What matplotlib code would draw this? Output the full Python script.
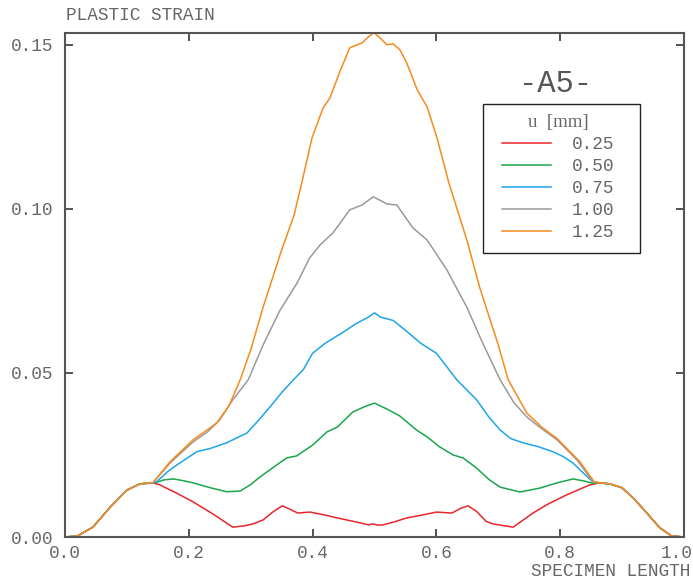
import matplotlib
matplotlib.use("Agg")
import matplotlib.pyplot as plt
from matplotlib.font_manager import FontProperties
from matplotlib.patches import Rectangle
from matplotlib.transforms import ScaledTranslation

# ---- data ----
left_x = [0.0, 0.02, 0.045, 0.073, 0.1, 0.121, 0.142]
left_y = [0.0, 0.0003, 0.003, 0.0091, 0.0143, 0.0162, 0.0165]
right_x = [0.88, 0.9, 0.92, 0.94, 0.961, 0.98, 1.0]
right_y = [0.0162, 0.0150, 0.0115, 0.0073, 0.0028, 0.0003, 0.0]

red_x = [0.153, 0.18, 0.207, 0.24, 0.271, 0.29, 0.304, 0.32, 0.337, 0.351, 0.363,
         0.376, 0.396, 0.42, 0.44, 0.46, 0.477, 0.49, 0.498, 0.505, 0.514, 0.53,
         0.552, 0.58, 0.60, 0.625, 0.64, 0.651, 0.665, 0.68, 0.691, 0.724, 0.756,
         0.78, 0.81, 0.848, 0.864]
red_y = [0.0159, 0.0134, 0.0107, 0.0069, 0.0030, 0.0034, 0.0040, 0.0052, 0.0078,
         0.0095, 0.0085, 0.0073, 0.0076, 0.0067, 0.0058, 0.0050, 0.0043, 0.0037,
         0.0040, 0.0036, 0.0037, 0.0045, 0.0058, 0.0068, 0.0076, 0.0073, 0.0088,
         0.0095, 0.0078, 0.0048, 0.0040, 0.0030, 0.0073, 0.0100, 0.0128, 0.0159,
         0.0165]

green_x = [0.148, 0.16, 0.175, 0.19, 0.207, 0.235, 0.261, 0.283, 0.30, 0.315,
           0.335, 0.358, 0.374, 0.40, 0.423, 0.44, 0.465, 0.485, 0.50, 0.52,
           0.54, 0.568, 0.585, 0.605, 0.627, 0.643, 0.665, 0.685, 0.703, 0.735,
           0.767, 0.795, 0.821, 0.84, 0.853, 0.864]
green_y = [0.0167, 0.0174, 0.0177, 0.0172, 0.0165, 0.0150, 0.0138, 0.0140, 0.0160,
           0.0183, 0.0210, 0.0241, 0.0247, 0.0280, 0.0320, 0.0335, 0.0381, 0.0398,
           0.0408, 0.0390, 0.0370, 0.0326, 0.0305, 0.0275, 0.0250, 0.0241, 0.0210,
           0.0175, 0.0152, 0.0137, 0.0149, 0.0165, 0.0177, 0.0170, 0.0164, 0.0165]

blue_x = [0.148, 0.165, 0.181, 0.213, 0.235, 0.261, 0.294, 0.31, 0.331, 0.35,
          0.369, 0.385, 0.40, 0.42, 0.45, 0.47, 0.49, 0.50, 0.51, 0.53, 0.55,
          0.575, 0.60, 0.633, 0.665, 0.685, 0.703, 0.72, 0.74, 0.765, 0.788,
          0.805, 0.821, 0.84, 0.853, 0.864]
blue_y = [0.0168, 0.0198, 0.0220, 0.0260, 0.0270, 0.0287, 0.0317, 0.0350, 0.0396,
          0.0440, 0.0479, 0.0510, 0.0560, 0.0590, 0.0625, 0.0650, 0.0670, 0.0683,
          0.0670, 0.0660, 0.0630, 0.0590, 0.0560, 0.0479, 0.0418, 0.0365, 0.0326,
          0.0300, 0.0287, 0.0275, 0.0260, 0.0245, 0.0225, 0.0190, 0.0168, 0.0165]

gray_x = [0.17, 0.207, 0.23, 0.25, 0.271, 0.296, 0.32, 0.347, 0.375, 0.395,
          0.412, 0.433, 0.46, 0.48, 0.498, 0.52, 0.536, 0.562, 0.585, 0.617,
          0.635, 0.649, 0.675, 0.703, 0.725, 0.746, 0.77, 0.795, 0.827, 0.853,
          0.864]
gray_y = [0.0226, 0.0290, 0.0320, 0.0357, 0.0418, 0.0479, 0.0585, 0.0690, 0.0774,
          0.0850, 0.0890, 0.0927, 0.0997, 0.1012, 0.1037, 0.1015, 0.1012, 0.0942,
          0.0905, 0.0814, 0.0750, 0.0701, 0.0590, 0.0479, 0.0410, 0.0366, 0.0330,
          0.0296, 0.0235, 0.0168, 0.0165]

orange_x = [0.17, 0.207, 0.245, 0.265, 0.283, 0.30, 0.32, 0.35, 0.37, 0.385,
            0.399, 0.417, 0.428, 0.444, 0.46, 0.48, 0.49, 0.499, 0.509, 0.52,
            0.53, 0.541, 0.552, 0.569, 0.585, 0.601, 0.62, 0.635, 0.65, 0.67,
            0.70, 0.716, 0.746, 0.77, 0.795, 0.832, 0.855, 0.864]
orange_y = [0.0230, 0.0296, 0.0347, 0.0400, 0.0479, 0.0570, 0.0700, 0.0875, 0.0980,
            0.1100, 0.1216, 0.1308, 0.1338, 0.1418, 0.1491, 0.1506, 0.1524, 0.1537,
            0.1521, 0.1500, 0.1503, 0.1485, 0.1445, 0.1363, 0.1311, 0.1216, 0.1080,
            0.0990, 0.0900, 0.0760, 0.0585, 0.0479, 0.0378, 0.0335, 0.0300, 0.0229,
            0.0168, 0.0165]

labels = ["0.25", "0.50", "0.75", "1.00", "1.25"]
colors = ["#e8262a", "#1aa64a", "#1ea4e8", "#9a9a9a", "#f78a1d"]
xticks = [0.0, 0.2, 0.4, 0.6, 0.8, 1.0]
xticklabels = ["0.0", "0.2", "0.4", "0.6", "0.8", "1.0"]
yticks = [0.0, 0.05, 0.10, 0.15]
yticklabels = ["0.00", "0.05", "0.10", "0.15"]

series = [(red_x, red_y), (green_x, green_y), (blue_x, blue_y),
          (gray_x, gray_y), (orange_x, orange_y)]

MONO = "Liberation Mono"
TXT = "#666666"
FS = 12.8

fig = plt.figure(figsize=(6.93, 5.81), dpi=100)
ax = fig.add_axes([65 / 693, 44 / 581, 619 / 693, 504 / 581])

for (sx, sy), lab, col in zip(series, labels, colors):
    xs = left_x + sx + right_x
    ys = left_y + sy + right_y
    ax.plot(xs, ys, color=col, lw=1.1, label=lab, solid_joinstyle="round")

ax.set_xlim(0, 1.0)
ax.set_ylim(0, 0.1536)
ax.set_xticks(xticks)
ax.set_xticklabels(xticklabels)
ax.set_yticks(yticks)
ax.set_yticklabels(yticklabels)
ax.tick_params(axis="both", direction="in", length=6, width=1.2, color="#333333",
               labelcolor=TXT, labelsize=FS, top=True, right=True)
ax.tick_params(axis="x", pad=5.5)
ax.tick_params(axis="y", pad=8.5)
for lab in ax.get_xticklabels() + ax.get_yticklabels():
    lab.set_fontfamily(MONO)
last = ax.xaxis.get_major_ticks()[-1].label1
last.set_transform(last.get_transform() + ScaledTranslation(-7 / 100, 0, fig.dpi_scale_trans))
for sp in ax.spines.values():
    sp.set_color("#555555")
    sp.set_linewidth(1.5)

fig.text(66 / 693, 1 - 15 / 581, "PLASTIC STRAIN", family=MONO, fontsize=FS,
         color=TXT, ha="left", va="center")
fig.text(690 / 693, 1 - 571 / 581, "SPECIMEN LENGTH", family=MONO, fontsize=FS,
         color=TXT, ha="right", va="center")
fig.text(555 / 693, 1 - 84 / 581, "-A5-", family=MONO, fontsize=22,
         color="#555555", ha="center", va="center")

# legend frame
fig.patches.append(Rectangle((483 / 693, 1 - 253 / 581), 157 / 693, 149 / 581,
                             transform=fig.transFigure, fill=False,
                             edgecolor="#222222", lw=1.0))

leg = ax.legend(loc="upper left", bbox_to_anchor=(502 / 693, 1 - 114 / 581),
                bbox_transform=fig.transFigure, borderaxespad=0, borderpad=0,
                frameon=False,
                prop=FontProperties(family=MONO, size=FS),
                title="u  [mm]",
                title_fontproperties=FontProperties(family="Liberation Serif", size=13.5),
                handlelength=2.75, handletextpad=1.18, labelspacing=0.28)
for t in leg.get_texts():
    t.set_color(TXT)
leg.get_title().set_color(TXT)

fig.savefig("out.png", dpi=100)
